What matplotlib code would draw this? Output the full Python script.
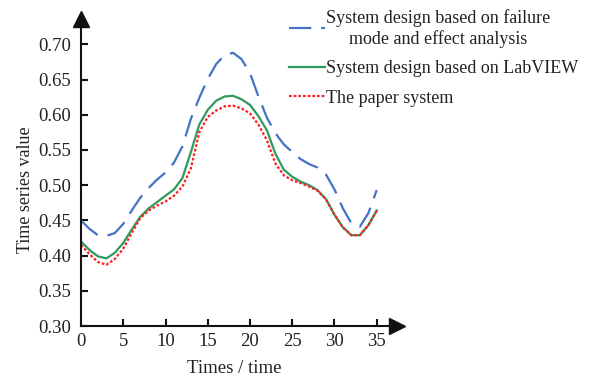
import matplotlib
matplotlib.use("Agg")
import matplotlib.pyplot as plt
from matplotlib.ticker import FormatStrFormatter

plt.rcParams['font.family'] = ['Liberation Serif', 'DejaVu Serif']

# time axis and the three series
times = list(range(36))
fmea_system = [0.450, 0.438, 0.429, 0.428, 0.432, 0.445, 0.464, 0.482, 0.496, 0.508,
               0.518, 0.532, 0.555, 0.594, 0.624, 0.651, 0.672, 0.685, 0.688, 0.679,
               0.659, 0.626, 0.596, 0.574, 0.558, 0.547, 0.537, 0.530, 0.525, 0.515,
               0.494, 0.467, 0.446, 0.441, 0.460, 0.493]
labview_system = [0.420, 0.408, 0.399, 0.396, 0.404, 0.418, 0.437, 0.455, 0.467, 0.476,
                  0.485, 0.494, 0.510, 0.547, 0.586, 0.607, 0.620, 0.626, 0.627, 0.622,
                  0.614, 0.598, 0.578, 0.545, 0.522, 0.512, 0.505, 0.500, 0.493, 0.480,
                  0.458, 0.440, 0.429, 0.429, 0.443, 0.464]
paper_system = [0.415, 0.402, 0.391, 0.387, 0.395, 0.410, 0.432, 0.453, 0.464, 0.471,
                0.477, 0.485, 0.498, 0.524, 0.575, 0.597, 0.606, 0.612, 0.613, 0.609,
                0.602, 0.586, 0.564, 0.531, 0.514, 0.507, 0.503, 0.498, 0.492, 0.480,
                0.458, 0.440, 0.429, 0.429, 0.443, 0.464]

labels = ["System design based on failure\nmode and effect analysis",
          "System design based on LabVIEW",
          "The paper system"]

fig = plt.figure(figsize=(5.9, 3.79), dpi=100)
ax = fig.add_axes([0.1373, 0.1398, 0.5356, 0.810])

ax.plot(times, fmea_system, color='#4472C4', lw=1.6, dashes=(10, 4.5), label=labels[0])
ax.plot(times, labview_system, color='#2E9A5C', lw=1.6, label=labels[1])
ax.plot(times, paper_system, color='#FF1F1F', lw=1.6, linestyle=(0, (1.2, 0.9)), label=labels[2])

ax.set_xlim(0, 37.4)
ax.set_ylim(0.30, 0.736)
ax.set_xticks(range(0, 36, 5))
ax.set_yticks([0.30, 0.35, 0.40, 0.45, 0.50, 0.55, 0.60, 0.65, 0.70])
ax.yaxis.set_major_formatter(FormatStrFormatter('%.2f'))

for side in ['top', 'right']:
    ax.spines[side].set_visible(False)
for side in ['left', 'bottom']:
    ax.spines[side].set_linewidth(1.5)
    ax.spines[side].set_color('#111111')

ax.tick_params(direction='in', length=5, width=1.5, color='#111111',
               labelsize=13.5, labelcolor='#222222')
ax.tick_params(axis='y', pad=7)
ax.tick_params(axis='x', pad=5)

# arrow heads on the axis ends
ax.plot(1, 0, '>', color='#111111', markersize=11, transform=ax.transAxes, clip_on=False)
ax.plot(0, 1, '^', color='#111111', markersize=11, transform=ax.transAxes, clip_on=False)

ax.set_xlabel('Times / time', fontsize=13.5, color='#222222')
ax.set_ylabel('Time series value', fontsize=13, color='#222222')
ax.xaxis.set_label_coords(0.485, -0.11)
ax.yaxis.set_label_coords(-0.15, 0.443)

leg = ax.legend(loc='upper left', bbox_to_anchor=(289 / 590, 1 - 9 / 379),
                bbox_transform=fig.transFigure, frameon=False, fontsize=13,
                handlelength=2.0, handletextpad=0.05, labelspacing=0.7,
                borderpad=0, borderaxespad=0)
for t in leg.get_texts():
    t.set_color('#222222')
leg.get_texts()[0].set_multialignment('center')

fig.savefig('out.png', dpi=100)
